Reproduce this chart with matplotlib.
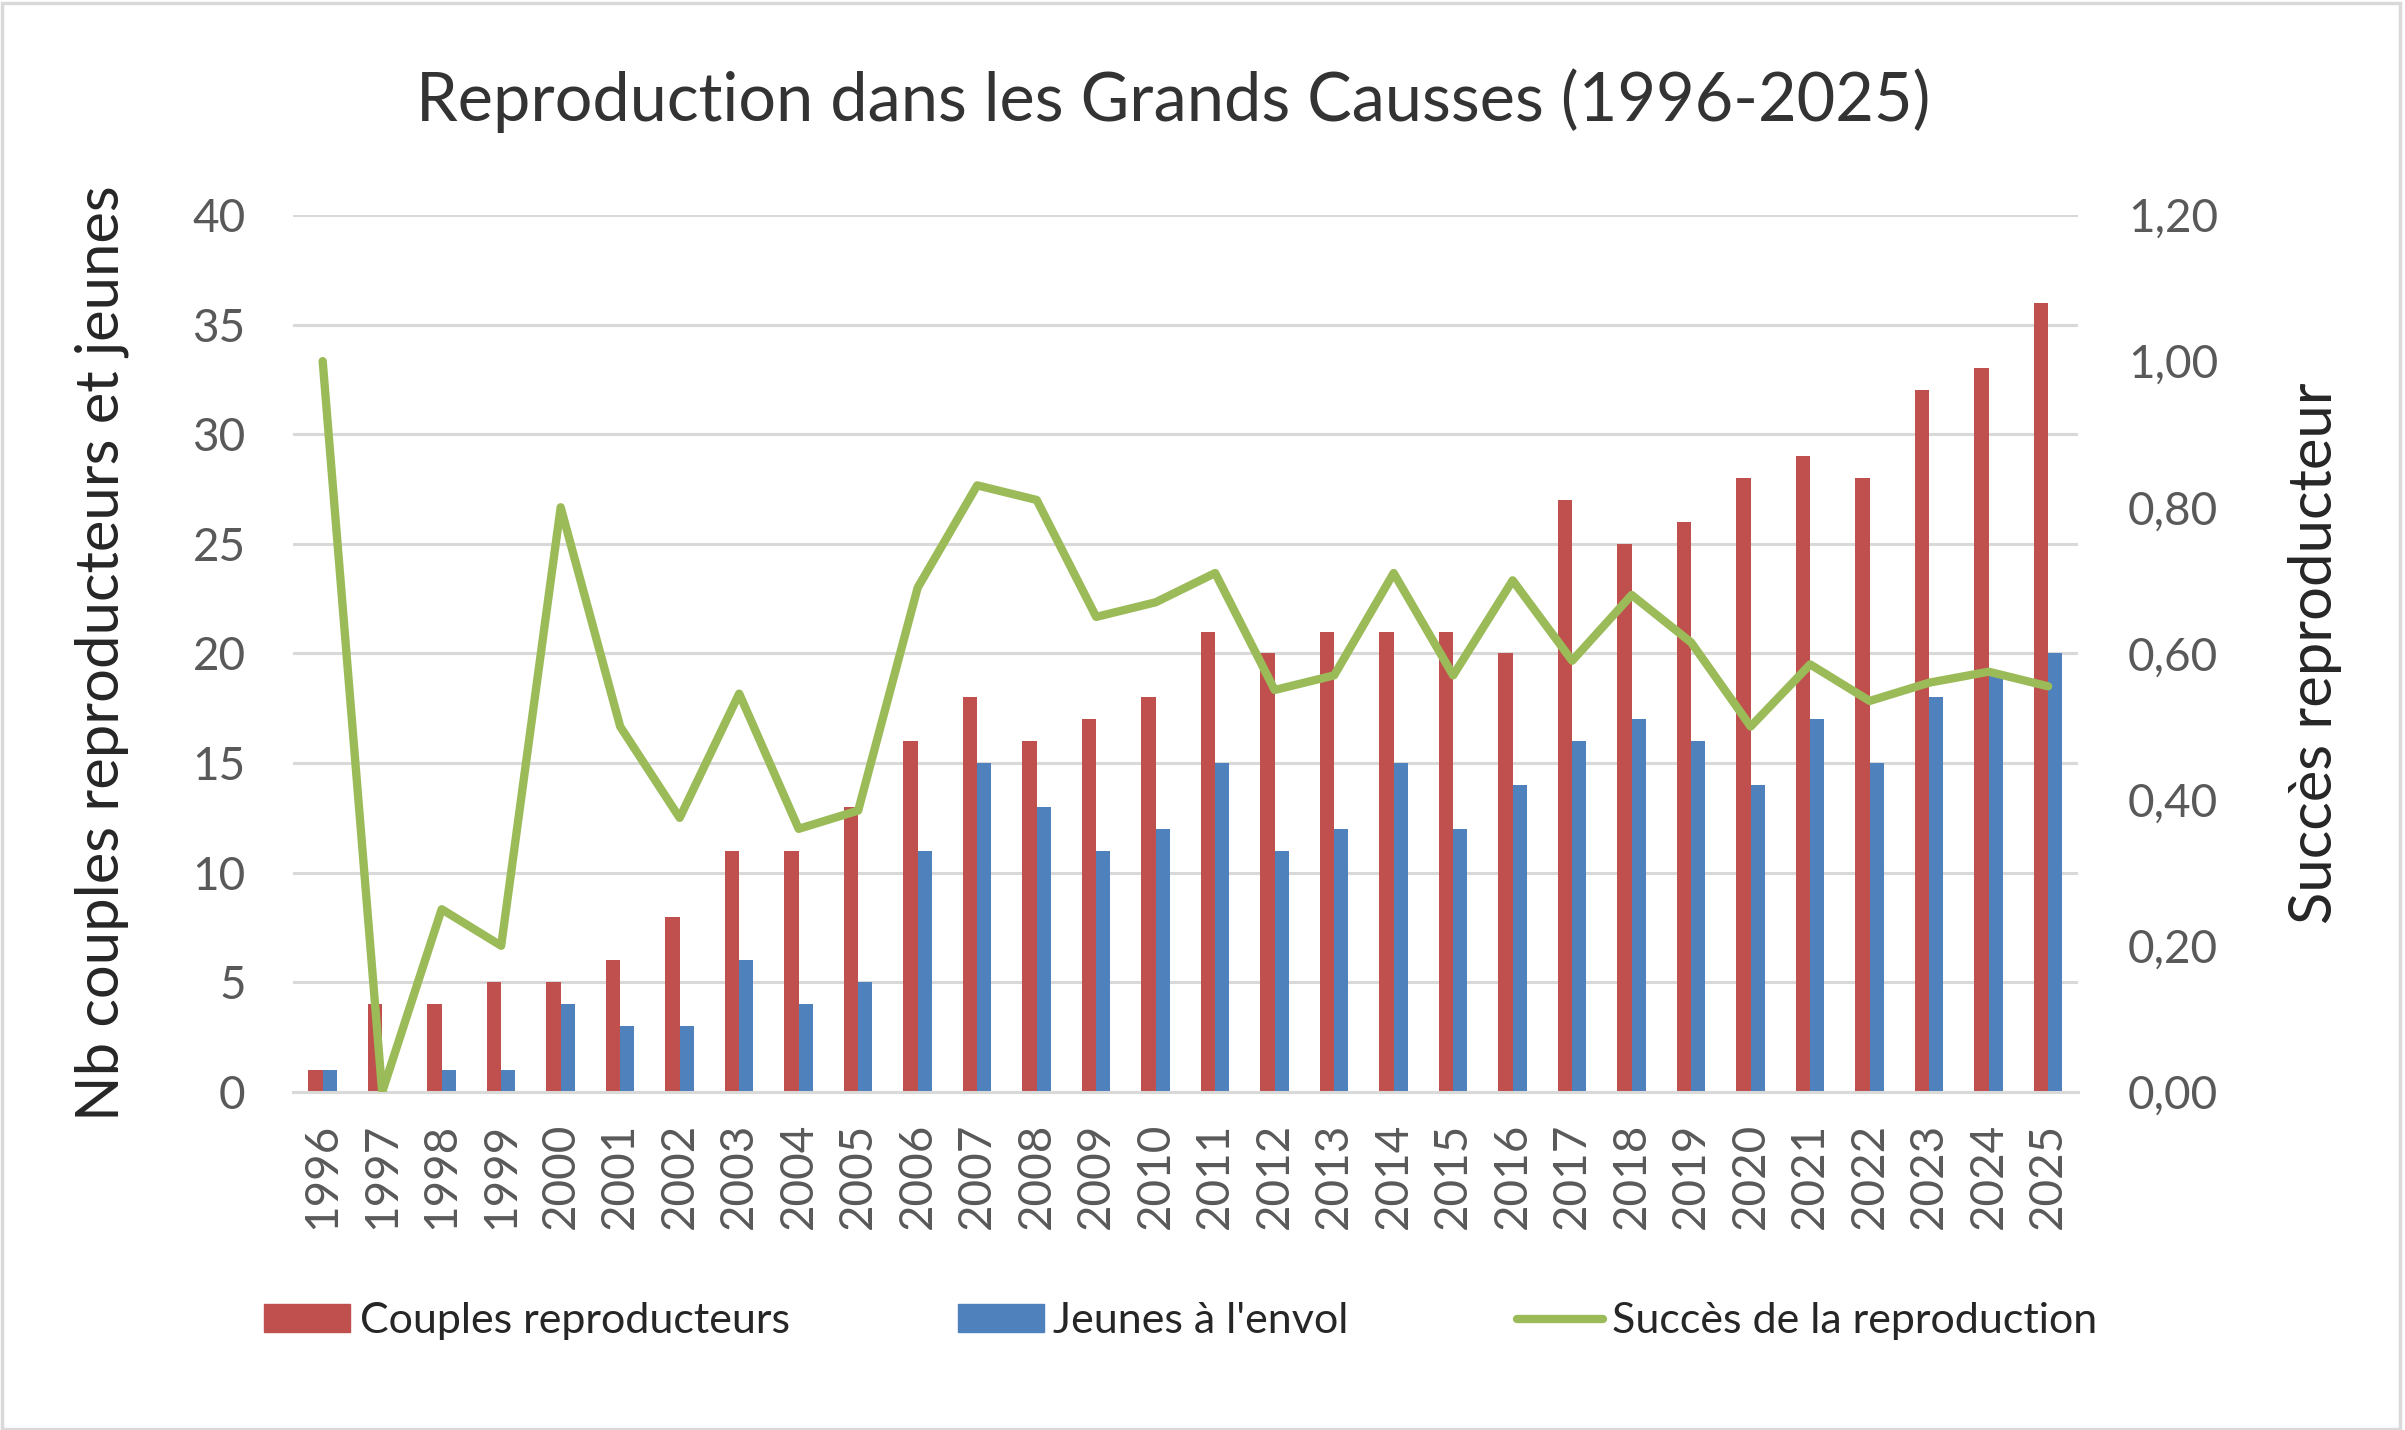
import matplotlib.pyplot as plt
from matplotlib.lines import Line2D
from matplotlib.patches import Patch, Rectangle
from matplotlib.ticker import FuncFormatter, MultipleLocator
import numpy as np

plt.rcParams['font.family'] = ['Lato', 'DejaVu Sans']

years = ["1996", "1997", "1998", "1999", "2000", "2001", "2002", "2003", "2004", "2005",
         "2006", "2007", "2008", "2009", "2010", "2011", "2012", "2013", "2014", "2015",
         "2016", "2017", "2018", "2019", "2020", "2021", "2022", "2023", "2024", "2025"]
couples = [1, 4, 4, 5, 5, 6, 8, 11, 11, 13, 16, 18, 16, 17, 18,
           21, 20, 21, 21, 21, 20, 27, 25, 26, 28, 29, 28, 32, 33, 36]
jeunes = [1, 0, 1, 1, 4, 3, 3, 6, 4, 5, 11, 15, 13, 11, 12,
          15, 11, 12, 15, 12, 14, 16, 17, 16, 14, 17, 15, 18, 19, 20]
succes = [1.00, 0.00, 0.25, 0.20, 0.80, 0.50, 0.375, 0.545, 0.36, 0.385,
          0.69, 0.83, 0.81, 0.65, 0.67, 0.71, 0.55, 0.57, 0.71, 0.57,
          0.70, 0.59, 0.68, 0.615, 0.50, 0.585, 0.535, 0.56, 0.575, 0.555]

RED = "#C0504D"
BLUE = "#4F81BD"
GREEN = "#9BBB59"
GRID = "#D9D9D9"
TICK = "#595959"

fig = plt.figure(figsize=(24.05, 14.3), dpi=100)
fig.patches.append(Rectangle((0.001, 0.001), 0.997, 0.997, transform=fig.transFigure,
                             fill=False, edgecolor=GRID, linewidth=2.5))

ax = fig.add_axes([0.1218, 0.2364, 0.7422, 0.6133])
x = np.arange(len(years))
w = 0.2387
ax.bar(x - w / 2, couples, width=w, color=RED, zorder=2)
ax.bar(x + w / 2, jeunes, width=w, color=BLUE, zorder=2)

ax.set_xlim(-0.5, len(years) - 0.5)
ax.set_ylim(0, 40)
ax.yaxis.set_major_locator(MultipleLocator(5))
ax.grid(axis="y", color=GRID, linewidth=2.2, zorder=0)
ax.set_axisbelow(True)
for s in ["top", "left", "right"]:
    ax.spines[s].set_visible(False)
ax.spines["bottom"].set_color(GRID)
ax.spines["bottom"].set_linewidth(2.2)
ax.set_xticks(x)
ax.set_xticklabels(years, rotation=90)
ax.tick_params(axis="x", length=0, pad=22, labelsize=33, labelcolor=TICK)
ax.tick_params(axis="y", length=0, pad=34, labelsize=33, labelcolor=TICK)
ax.set_ylabel("Nb couples reproducteurs et jeunes", fontsize=43, color="#262626", labelpad=46)

ax2 = ax.twinx()
ax2.plot(x, succes, color=GREEN, linewidth=6, solid_joinstyle="round",
         solid_capstyle="round", zorder=3)
ax2.set_ylim(0, 1.2)
ax2.yaxis.set_major_locator(MultipleLocator(0.2))
ax2.yaxis.set_major_formatter(FuncFormatter(lambda v, p: f"{v:.2f}".replace(".", ",")))
for s in ["top", "left", "right", "bottom"]:
    ax2.spines[s].set_visible(False)
ax2.tick_params(axis="y", length=0, pad=36, labelsize=33, labelcolor=TICK)
ax2.set_ylabel("Succès reproducteur", fontsize=43, color="#262626", labelpad=50)

fig.suptitle("Reproduction dans les Grands Causses (1996-2025)", fontsize=48,
             color="#333333", x=0.488, y=0.952)

handles = [Patch(color=RED), Patch(color=BLUE),
           Line2D([], [], color=GREEN, linewidth=6, solid_capstyle="round")]
fig.legend(handles, ["Couples reproducteurs", "Jeunes à l'envol", "Succès de la reproduction"],
           loc="center", bbox_to_anchor=(0.491, 0.076), ncol=3, frameon=False,
           fontsize=31, handlelength=2.0, handleheight=0.6, handletextpad=0.22,
           columnspacing=3.9, labelcolor="#262626")

fig.savefig("out.png", dpi=100)
